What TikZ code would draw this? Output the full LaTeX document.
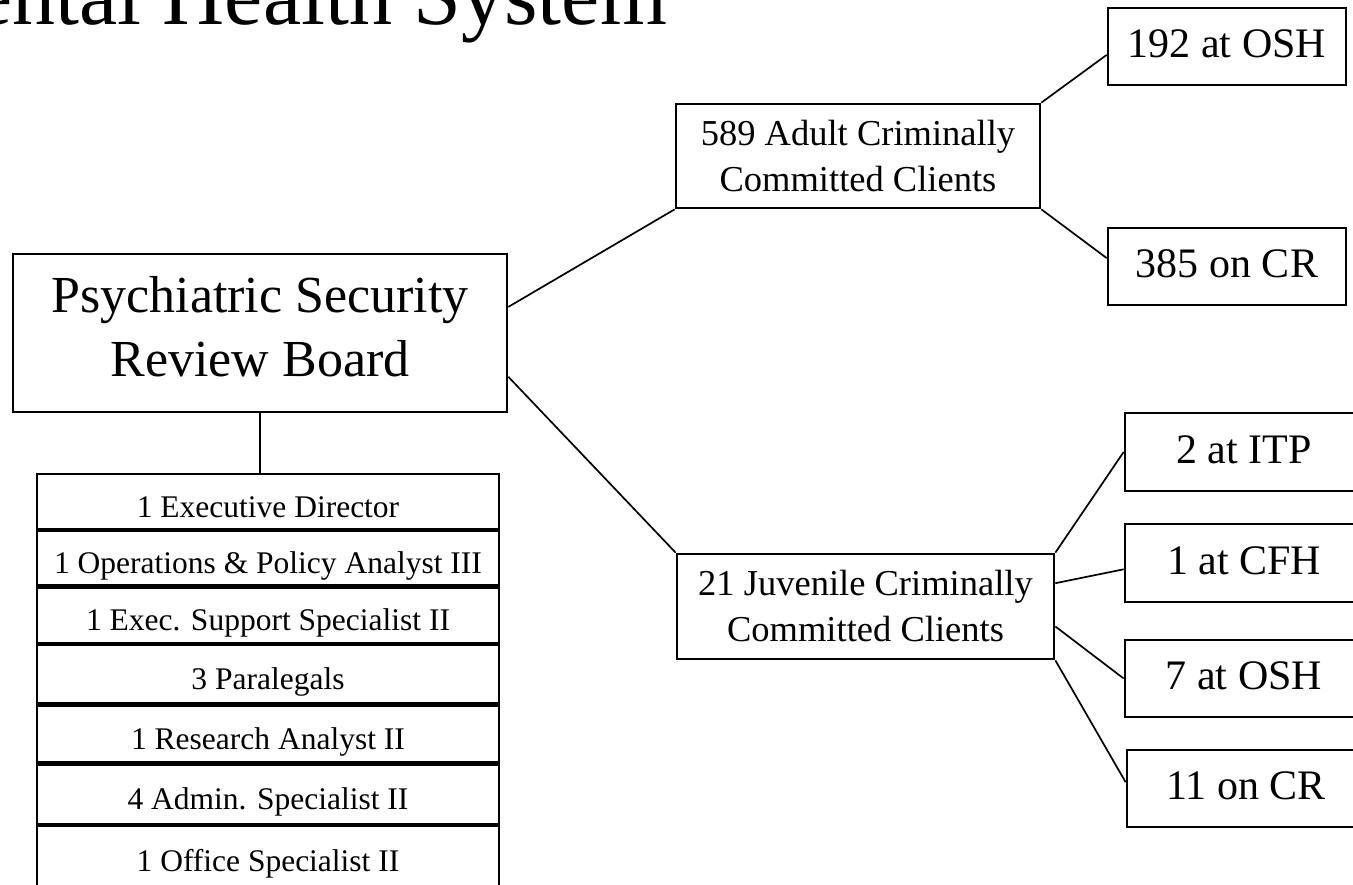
\documentclass[tikz,border=0pt]{standalone}
\usepackage{fontspec}
\setmainfont{Liberation Serif}

\begin{document}
\begin{tikzpicture}[x=1pt,y=-1pt,
    box/.style={draw, line width=2.7pt, inner sep=0pt, align=center},
    link/.style={line width=1.7pt},
    boardbox/.style={box, minimum width=494pt, minimum height=158pt,
      font=\fontsize{52}{64}\selectfont, text depth=14pt},
    clientbox/.style={box, minimum height=104pt, font=\fontsize{36.5}{46}\selectfont},
    placebox/.style={box, minimum width=238pt, minimum height=77pt,
      font=\fontsize{42}{50}\selectfont, text height=29pt, text depth=7pt},
    staffrow/.style={draw, line width=2.5pt, inner sep=0pt, minimum width=462pt,
      font=\fontsize{31.5}{38}\selectfont, text height=31pt, text depth=0pt}]
  \useasboundingbox (0,0) rectangle (1353,885);
  \clip (0,0) rectangle (1353,885);

  % title, cut at the top left
  \node[anchor=base east, inner sep=0pt, font=\fontsize{86}{100}\selectfont] (title) at (667,25) {ental Health System};

  % board and its staff
  \node[boardbox] (psrb) at (260,333) {Psychiatric Security\\Review Board};
  \foreach \i/\ya/\yb/\txt in {1/473/530/{1 Executive Director},
      2/530/586.5/{1 Operations \& Policy Analyst III},
      3/586.5/644/{1 Exec. Support Specialist II},
      4/644/704.5/{3 Paralegals},
      5/704.5/763.3/{1 Research Analyst II},
      6/763.3/824.8/{4 Admin. Specialist II},
      7/824.8/888/{1 Office Specialist II}}
    \node[staffrow, minimum height={(\yb-\ya-2.1)*1pt}] (staff\i) at (268,{(\ya+\yb)/2}) {\txt};
  \draw[link] (psrb.south) -- (psrb.south |- staff1.north);

  % clients
  \node[clientbox, minimum width=364pt] (adult) at (858,156) {589 Adult Criminally\\Committed Clients};
  \node[clientbox, minimum width=377pt, minimum height=105pt] (juv) at (865.5,606.5) {21 Juvenile Criminally\\Committed Clients};
  \draw[link] (psrb.6) -- (adult.south west);
  \draw[link] (psrb.-10) -- (juv.north west);

  % adult placements
  \node[placebox] (osh192) at (1227,46.5) {192 at OSH};
  \node[placebox] (cr385) at (1227,266.5) {385 on CR};
  \draw[link] (adult.north east) -- (osh192.184);
  \draw[link] (adult.south east) -- (cr385.176);

  % juvenile placements
  \node[placebox, minimum height=78pt] (itp) at (1244,452) {2 at ITP};
  \node[placebox, minimum height=78pt] (cfh) at (1244,563) {1 at CFH};
  \node[placebox] (osh7) at (1244,678.5) {7 at OSH};
  \node[placebox] (cr11) at (1246,788.5) {11 on CR};
  \draw[link] (juv.north east) -- (itp.west);
  \draw[link] (juv.7) -- (cfh.183);
  \draw[link] (juv.-6.5) -- (osh7.west);
  \draw[link] (juv.south east) -- (cr11.177);
\end{tikzpicture}
\end{document}
